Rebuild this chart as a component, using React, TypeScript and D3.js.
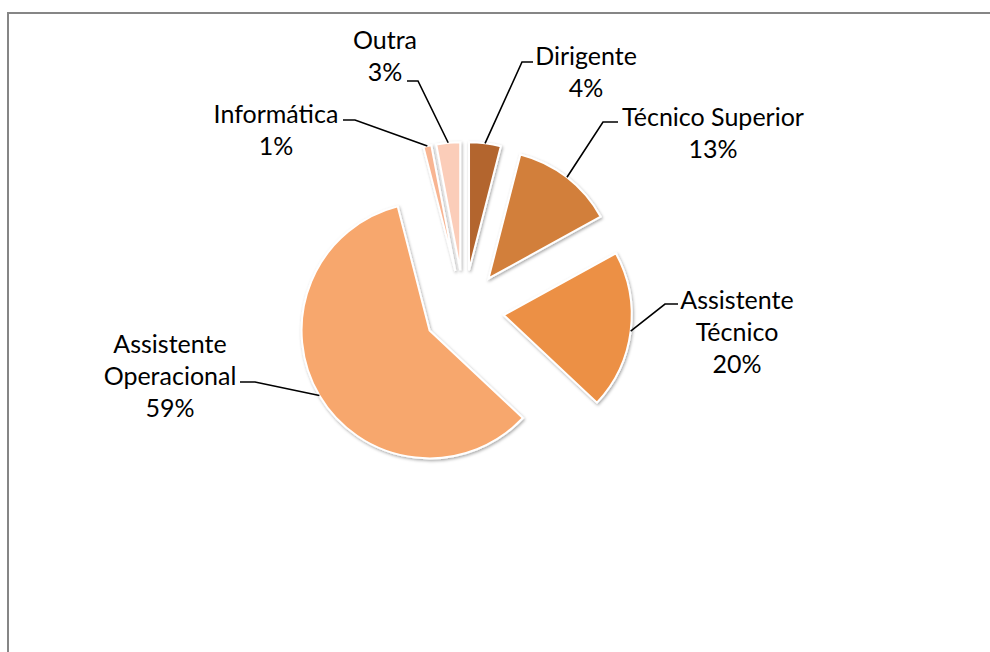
import React from "react";
import * as d3 from "d3";

const categories = ["Dirigente", "Técnico Superior", "Assistente Técnico", "Assistente Operacional", "Informática", "Outra"];
const values = [4, 13, 20, 59, 1, 3];
const colors = ["#B3652F", "#D27F3A", "#EC9045", "#F7A76D", "#F8B592", "#FBCDB9"];
const labelLines = [["Dirigente", "4%"], ["Técnico Superior", "13%"], ["Assistente", "Técnico", "20%"], ["Assistente", "Operacional", "59%"], ["Informática", "1%"], ["Outra", "3%"]];
// label text centre (x, first-line y) and leader elbow (x, y) with horizontal end x
const labelPos = [
  { x: 586, y: 55, ex: 522, ey: 62, hx: 533 },
  { x: 713, y: 116, ex: 603, ey: 122, hx: 618 },
  { x: 737, y: 299, ex: 665, ey: 304, hx: 678 },
  { x: 170, y: 343, ex: 255, ey: 382, hx: 240 },
  { x: 276, y: 113, ex: 355, ey: 120, hx: 343 },
  { x: 385, y: 39, ex: 418, ey: 81, hx: 407 },
];

const W = 990, H = 652;
const cx = 464, cy = 310, R = 128, explode = 40;
const lineH = 32;

export default function App() {
  const pie = d3.pie<number>().sort(null).value((d) => d).startAngle(0).endAngle(2 * Math.PI);
  const arcs = pie(values);
  const arc = d3.arc<d3.PieArcDatum<number>>().innerRadius(0).outerRadius(R);
  return (
    <svg width={W} height={H} style={{ position: "absolute", left: 0, top: 0, background: "#fff" }} fontFamily="Lato, 'Noto Sans', sans-serif">
      <defs>
        <filter id="sh" x="-20%" y="-20%" width="140%" height="140%">
          <feDropShadow dx="1" dy="1.5" stdDeviation="1.6" floodColor="#000" floodOpacity="0.35" />
        </filter>
      </defs>
      <rect x={8} y={13} width={1100} height={800} fill="#fff" stroke="#868686" strokeWidth={2} />
      {arcs.map((a, i) => {
        const mid = (a.startAngle + a.endAngle) / 2;
        const ox = cx + explode * Math.sin(mid);
        const oy = cy - explode * Math.cos(mid);
        return (
          <path key={categories[i]} d={arc(a) || ""} transform={`translate(${ox},${oy})`} fill={colors[i]} stroke="#fff" strokeWidth={2} filter="url(#sh)" />
        );
      })}
      {arcs.map((a, i) => {
        const mid = (a.startAngle + a.endAngle) / 2;
        const px = cx + (explode + R) * Math.sin(mid);
        const py = cy - (explode + R) * Math.cos(mid);
        const lp = labelPos[i];
        return (
          <polyline key={"l" + i} points={`${px},${py} ${lp.ex},${lp.ey} ${lp.hx},${lp.ey}`} fill="none" stroke="#000" strokeWidth={1.6} />
        );
      })}
      {labelLines.map((lines, i) => (
        <text key={"t" + i} x={labelPos[i].x} y={labelPos[i].y} textAnchor="middle" fontSize={25} fill="#000" dominantBaseline="central">
          {lines.map((ln, j) => (
            <tspan key={j} x={labelPos[i].x} y={labelPos[i].y + j * lineH}>{ln}</tspan>
          ))}
        </text>
      ))}
    </svg>
  );
}
